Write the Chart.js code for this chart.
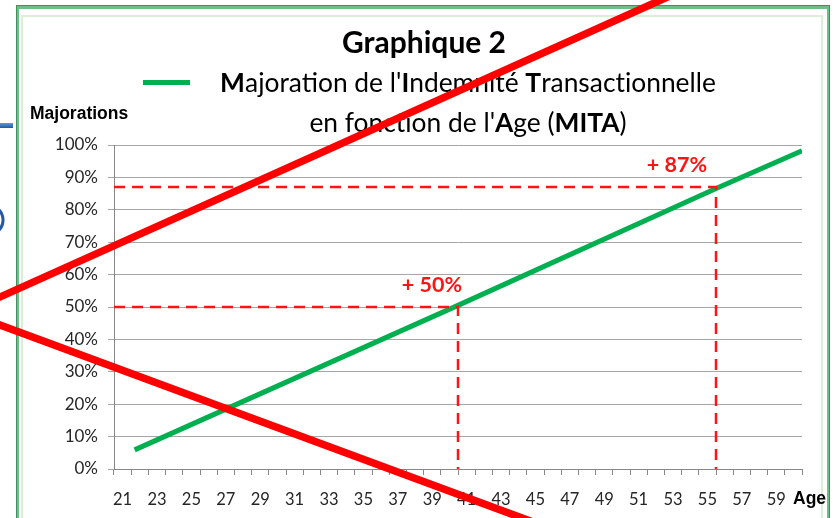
<!DOCTYPE html>
<html>
<head>
<meta charset="utf-8">
<script src="https://cdn.jsdelivr.net/npm/chart.js@4.4.1/dist/chart.umd.min.js"></script>
<style>
html, body { margin: 0; padding: 0; background: #fff; }
#wrap { width: 836px; height: 518px; position: relative; }
</style>
</head>
<body>
<div id="wrap"><canvas id="chartMita"></canvas></div>
<script>
// categories on the age axis
const ages = [21, 22, 23, 24, 25, 26, 27, 28, 29, 30, 31, 32, 33, 34, 35, 36, 37, 38, 39, 40,
    41, 42, 43, 44, 45, 46, 47, 48, 49, 50, 51, 52, 53, 54, 55, 56, 57, 58, 59, 60]
// green line (MITA)
const mitaAges = [21.7, 40.5, 55.5, 60.5]
const mitaValues = [5.9, 50.5, 86.6, 98.2]
// red dashed guides
const guideAges = [40.5, 55.5]
const guideValues = [50, 87]
const guideLabels = ['+ 50%', '+ 87%']
const yTicks = [0, 10, 20, 30, 40, 50, 60, 70, 80, 90, 100]

const FONT = 'Lato'
const gridGray = '#a6a6a6'
const axisGray = '#888888'
const green = '#00b050'
const red = '#ff1414'

const guideSets = guideAges.map((a, i) => ({
    data: [{ x: ages[0] - 0.5, y: guideValues[i] }, { x: a, y: guideValues[i] }, { x: a, y: 0 }],
    borderColor: red,
    borderWidth: 2.5,
    borderDash: [11, 7],
    pointRadius: 0,
    fill: false,
    xAxisID: 'xl'
}))

// rich text helper (bold initials in the legend), each run drawn on its own
const drawRuns = (ctx, runs, size, cx, y) => {
    let w = 0
    runs.forEach(r => {
        ctx.font = (r[1] ? 'bold ' : '') + size + 'px ' + FONT
        w += ctx.measureText(r[0]).width
    })
    let x = cx - w / 2
    ctx.textAlign = 'left'
    runs.forEach(r => {
        ctx.font = (r[1] ? 'bold ' : '') + size + 'px ' + FONT
        ctx.fillText(r[0], x, y)
        x += ctx.measureText(r[0]).width
    })
}

// split at "t|i" so Lato does not join them
const legendLine1 = [['M', true], ["ajoration de l'", false], ['I', true], ['ndemnité ', false], ['T', true], ['ransact', false], ['ionnelle', false]]
const legendLine2 = [['en fonct', false], ["ion de l'", false], ['A', true], ['ge (', false], ['MITA', true], [')', false]]

const decor = {
    id: 'decor',
    beforeDraw(chart) {
        const ctx = chart.ctx
        ctx.save()
        ctx.fillStyle = '#fff'
        ctx.fillRect(0, 0, chart.width, chart.height)
        // slide frame
        ctx.strokeStyle = '#6cbf86'
        ctx.lineWidth = 3
        ctx.strokeRect(17.5, 7.5, 811, 600)
        ctx.strokeStyle = '#3f8f5f'
        ctx.lineWidth = 1
        ctx.strokeRect(16.5, 5.5, 813, 600)
        ctx.strokeStyle = '#d9f0d2'
        ctx.lineWidth = 2
        ctx.strokeRect(22, 16, 800, 600)
        // bits of the slide outside the frame
        const g = ctx.createLinearGradient(0, 123, 0, 128)
        g.addColorStop(0, '#5b9bd5')
        g.addColorStop(1, '#1f5aa0')
        ctx.fillStyle = g
        ctx.fillRect(0, 123, 13, 5)
        ctx.strokeStyle = '#2358a6'
        ctx.lineWidth = 3
        ctx.beginPath()
        ctx.arc(-12, 220, 15, -0.9, 0.9)
        ctx.stroke()
        ctx.restore()
    },
    afterDraw(chart) {
        const ctx = chart.ctx
        const xl = chart.scales.xl
        const y = chart.scales.y
        ctx.save()
        ctx.fillStyle = '#000'
        ctx.textBaseline = 'alphabetic'
        ctx.textAlign = 'center'
        ctx.font = 'bold 30px ' + FONT
        ctx.fillText('Graphique 2', 424, 53)

        // legend
        ctx.strokeStyle = green
        ctx.lineWidth = 5
        ctx.beginPath()
        ctx.moveTo(143, 82.5)
        ctx.lineTo(190, 82.5)
        ctx.stroke()
        let w = 0
        legendLine1.forEach(r => {
            ctx.font = (r[1] ? 'bold ' : '') + '100px ' + FONT
            w += ctx.measureText(r[0]).width
        })
        const size = 100 * 496 / w
        drawRuns(ctx, legendLine1, size, 468, 92)
        drawRuns(ctx, legendLine2, size, 468, 132)

        // axis titles
        ctx.font = 'bold 17.5px "Liberation Sans"'
        ctx.textAlign = 'left'
        ctx.fillText('Majorations', 30, 119)
        ctx.fillText('Age', 793, 504)

        // guide labels
        const nudge = [4, -9]
        ctx.fillStyle = red
        ctx.font = 'bold 21.5px ' + FONT
        ctx.textAlign = 'right'
        guideLabels.forEach((t, i) => {
            ctx.fillText(t, xl.getPixelForValue(guideAges[i]) + nudge[i], y.getPixelForValue(guideValues[i]) - 15)
        })

        // red cross drawn over the slide
        ctx.strokeStyle = '#ff0000'
        ctx.lineWidth = 7.5
        ctx.lineCap = 'butt'
        ctx.beginPath()
        ctx.moveTo(-10, 301.5)
        ctx.lineTo(672, -5)
        ctx.moveTo(-10, 321.3)
        ctx.lineTo(560, 532)
        ctx.stroke()
        ctx.restore()
    }
}

const chartMita = new Chart(document.getElementById('chartMita'), {
    type: 'line',
    data: {
        labels: ages,
        datasets: [
            ...guideSets,
            {
                label: "Majoration de l'Indemnité Transactionnelle en fonction de l'Age (MITA)",
                data: mitaAges.map((a, i) => ({ x: a, y: mitaValues[i] })),
                borderColor: green,
                borderWidth: 5,
                borderCapStyle: 'butt',
                pointRadius: 0,
                fill: false,
                xAxisID: 'xl'
            }
        ]
    },
    options: {
        responsive: true,
        maintainAspectRatio: false,
        animation: false,
        devicePixelRatio: 1,
        layout: { padding: { top: 145, right: 34, left: 0, bottom: 0 } },
        plugins: {
            legend: { display: false },
            title: { display: false },
            tooltip: { enabled: false }
        },
        scales: {
            x: {
                type: 'category',
                offset: true,
                grid: { offset: true, drawOnChartArea: false, tickLength: 6, color: axisGray },
                border: { color: axisGray },
                ticks: {
                    autoSkip: false,
                    maxRotation: 0,
                    padding: 15,
                    color: '#262626',
                    font: { family: FONT, size: 16.5 },
                    callback: function(v) {
                        const a = this.getLabelForValue(v)
                        return a % 2 === 1 ? a : ''
                    }
                },
                afterFit: s => { s.height = 49 }
            },
            xl: {
                type: 'linear',
                display: false,
                min: ages[0] - 0.5,
                max: ages[ages.length - 1] + 0.5
            },
            y: {
                min: yTicks[0],
                max: yTicks[yTicks.length - 1],
                afterBuildTicks: s => { s.ticks = yTicks.map(v => ({ value: v })) },
                grid: { color: gridGray, tickLength: 6 },
                border: { color: axisGray },
                ticks: {
                    padding: 10,
                    color: '#262626',
                    font: { family: FONT, size: 17 },
                    callback: v => v + '%'
                },
                afterFit: s => { s.width = 114 }
            }
        }
    },
    plugins: [decor]
})
</script>
</body>
</html>
